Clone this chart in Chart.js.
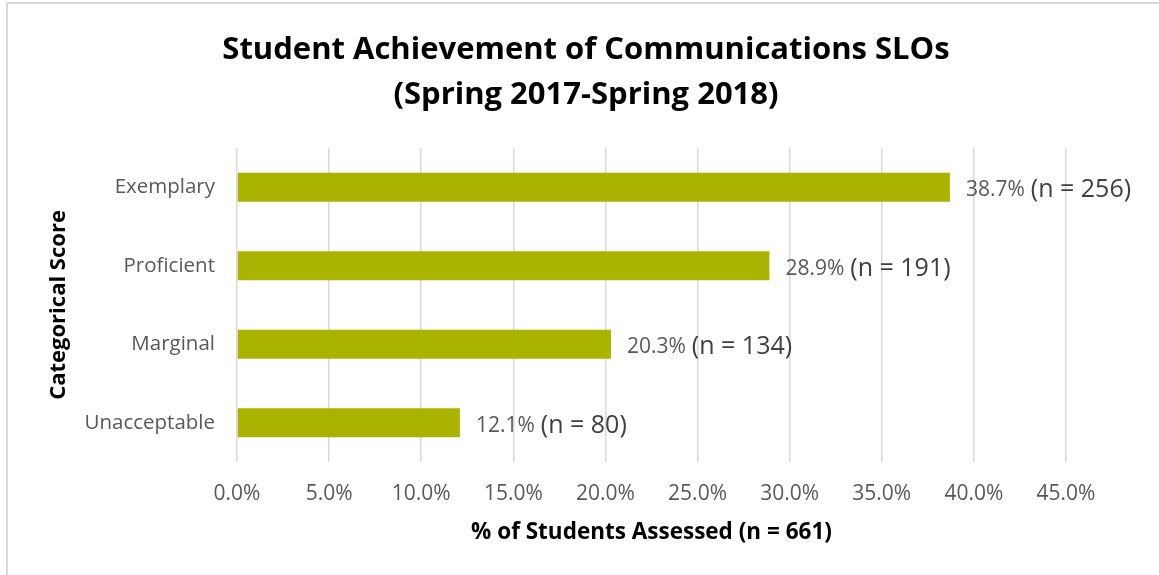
<!DOCTYPE html>
<html>
<head>
<meta charset="utf-8">
<script src="https://cdn.jsdelivr.net/npm/chart.js@4/dist/chart.umd.min.js"></script>
<style>
  html, body { margin: 0; padding: 0; background: #ffffff; }
  canvas { display: block; }
</style>
</head>
<body>
<canvas id="c" width="1159" height="575"></canvas>
<script>
// ---- data ----
const categories = ['Exemplary', 'Proficient', 'Marginal', 'Unacceptable'];
const percentValues = [38.7, 28.9, 20.3, 12.1];
const studentCounts = [256, 191, 134, 80];
const xAxisMin = 0;
const xAxisMax = 45;
const xAxisStep = 5;
const titleLines = ['Student Achievement of Communications SLOs', '(Spring 2017-Spring 2018)'];
const xAxisTitle = '% of Students Assessed (n = 661)';
const yAxisTitle = 'Categorical Score';

const FONT = "'Open Sans', 'DejaVu Sans', sans-serif";

const frameAndLabels = {
  id: 'frameAndLabels',
  beforeDraw(chart) {
    const ctx = chart.ctx;
    ctx.save();
    ctx.fillStyle = '#ffffff';
    ctx.fillRect(0, 0, chart.width, chart.height);
    ctx.fillStyle = '#d9d9d9';
    ctx.fillRect(6, 2, chart.width - 6, 2);
    ctx.fillRect(6, 2, 2, chart.height - 2);
    ctx.restore();
  },
  afterLayout(chart) {
    const t = chart.titleBlock;
    if (t) { t.left = 0; t.right = 1172; }
  },
  afterDatasetsDraw(chart) {
    const ctx = chart.ctx;
    const meta = chart.getDatasetMeta(0);
    ctx.save();
    ctx.textBaseline = 'middle';
    ctx.textAlign = 'left';
    meta.data.forEach((bar, i) => {
      const pct = percentValues[i].toFixed(1) + '%';
      const cnt = '(n = ' + studentCounts[i] + ')';
      let x = bar.x + 16;
      const y = bar.y + 3;
      ctx.font = "21px " + FONT;
      ctx.fillStyle = '#595959';
      ctx.fillText(pct, x, y);
      x += ctx.measureText(pct).width + 6;
      ctx.font = "25px " + FONT;
      ctx.fillStyle = '#404040';
      ctx.fillText(cnt, x, y);
    });
    ctx.restore();
  }
};

new Chart(document.getElementById('c'), {
  type: 'bar',
  data: {
    labels: categories,
    datasets: [{
      data: percentValues,
      backgroundColor: '#aab400',
      borderWidth: 0,
      barPercentage: 0.37,
      categoryPercentage: 1.0
    }]
  },
  options: {
    indexAxis: 'y',
    responsive: false,
    animation: false,
    devicePixelRatio: 1,
    layout: { padding: { left: 0, right: 93, top: 0, bottom: 0 } },
    plugins: {
      legend: { display: false },
      tooltip: { enabled: false },
      title: {
        display: true,
        text: titleLines,
        color: '#000000',
        font: { family: FONT, size: 31, weight: 'bold', lineHeight: 1.45 },
        padding: { top: 28, bottom: 30 }
      }
    },
    scales: {
      x: {
        min: xAxisMin,
        max: xAxisMax,
        border: { display: false },
        grid: { color: '#d9d9d9', lineWidth: 1.5, drawTicks: false },
        ticks: {
          stepSize: xAxisStep,
          padding: 19,
          color: '#595959',
          font: { family: FONT, size: 21 },
          callback: (v) => Number(v).toFixed(1) + '%'
        },
        title: {
          display: true,
          text: xAxisTitle,
          color: '#000000',
          font: { family: FONT, size: 22.5, weight: 'bold' },
          padding: { top: 10, bottom: 29 }
        },
        afterFit(scale) { scale.height = 113; }
      },
      y: {
        border: { display: false },
        grid: { display: false, drawTicks: false },
        ticks: {
          padding: 22,
          color: '#595959',
          font: { family: FONT, size: 20.5 }
        },
        title: {
          display: true,
          text: yAxisTitle,
          color: '#000000',
          font: { family: FONT, size: 22, weight: 'bold' },
          padding: { top: 46, bottom: 0 }
        },
        afterFit(scale) { scale.width = 237; }
      }
    }
  },
  plugins: [frameAndLabels]
});
</script>
</body>
</html>
